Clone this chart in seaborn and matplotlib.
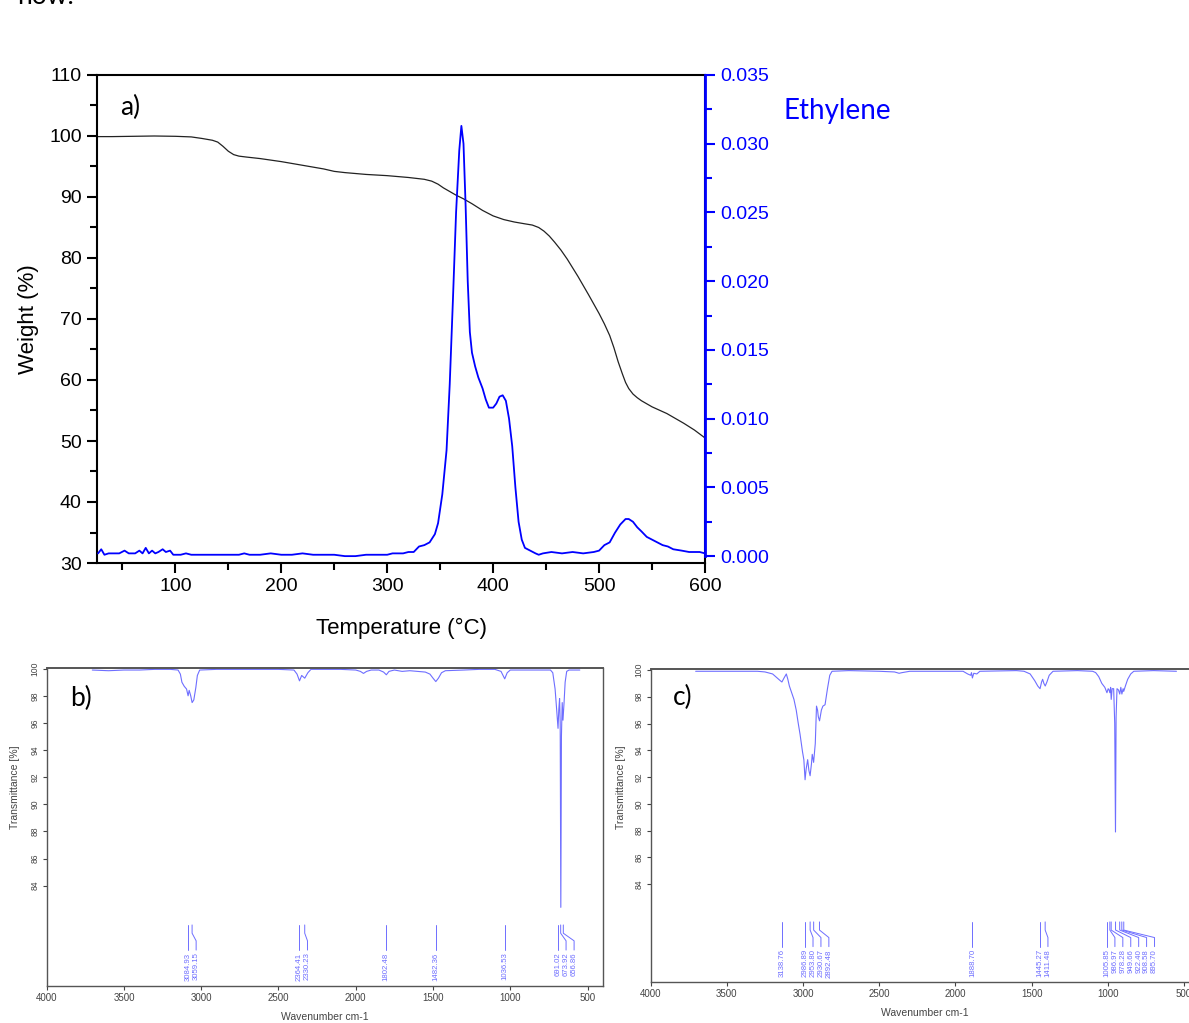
import matplotlib
matplotlib.use("Agg")
import matplotlib.pyplot as plt
import seaborn as sns
from matplotlib.ticker import MultipleLocator, FixedLocator, FormatStrFormatter

sns.set_theme(style="white")
plt.rcParams["font.family"] = ["Liberation Sans", "DejaVu Sans"]

# ---------------- TGA weight loss ----------------
tga_temp = [26, 40, 60, 80, 100, 115, 125, 135, 140, 145,
            150, 155, 160, 167, 180, 200, 220, 240, 250, 260,
            280, 300, 320, 335, 342, 348, 353, 358, 365, 372,
            380, 390, 400, 410, 420, 430, 437, 443, 448, 453,
            458, 464, 470, 480, 490, 500, 505, 510, 514, 518,
            522, 525, 528, 532, 536, 540, 550, 564, 580, 590,
            600]
tga_weight = [99.9, 99.9, 99.95, 100.0, 99.95, 99.85, 99.6, 99.3, 99.0, 98.3,
              97.5, 96.95, 96.7, 96.55, 96.3, 95.8, 95.2, 94.6, 94.2, 94.0,
              93.7, 93.5, 93.2, 92.9, 92.6, 92.1, 91.5, 91.0, 90.3, 89.7,
              88.9, 87.8, 86.9, 86.3, 85.9, 85.6, 85.4, 85.0, 84.4, 83.6,
              82.6, 81.3, 79.8, 77.0, 74.0, 70.9, 69.2, 67.3, 65.3, 63.0,
              61.0, 59.6, 58.6, 57.7, 57.1, 56.6, 55.6, 54.5, 52.9, 51.8,
              50.5]

# ---------------- Evolved ethylene signal ----------------
eth_temp = [27, 30, 33, 37, 42, 47, 52, 56, 62, 66,
            69, 72, 75, 78, 81, 84, 88, 91, 95, 98,
            105, 110, 115, 125, 140, 150, 160, 165, 170, 180,
            190, 200, 210, 220, 230, 240, 250, 260, 270, 280,
            290, 300, 305, 310, 315, 320, 325, 330, 335, 340,
            345, 348, 352, 356, 359, 362, 365, 368, 370, 372,
            374, 376, 378, 380, 383, 386, 390, 393, 396, 400,
            403, 406, 409, 412, 415, 418, 421, 424, 427, 430,
            435, 440, 443, 447, 455, 465, 475, 485, 495, 500,
            505, 510, 515, 520, 525, 528, 532, 536, 540, 545,
            550, 555, 560, 565, 570, 578, 585, 595, 600]
eth_signal = [0.0002, 0.0005, 0.0001, 0.0002, 0.0002, 0.0002, 0.0004, 0.0002, 0.0002, 0.0004,
              0.0002, 0.0006, 0.0002, 0.0004, 0.0002, 0.0003, 0.0005, 0.0003, 0.0004, 0.0001,
              0.0001, 0.0002, 0.0001, 0.0001, 0.0001, 0.0001, 0.0001, 0.0002, 0.0001, 0.0001,
              0.0002, 0.0001, 0.0001, 0.0002, 0.0001, 0.0001, 0.0001, 0.0000, 0.0000, 0.0001,
              0.0001, 0.0001, 0.0002, 0.0002, 0.0002, 0.0003, 0.0003, 0.0007, 0.0008, 0.0010,
              0.0016, 0.0024, 0.0045, 0.0077, 0.0125, 0.0186, 0.0250, 0.0295, 0.0313, 0.0300,
              0.0255, 0.0200, 0.0163, 0.0148, 0.0138, 0.0130, 0.0122, 0.0114, 0.0108, 0.0108,
              0.0111, 0.0116, 0.0117, 0.0113, 0.0100, 0.0080, 0.0050, 0.0025, 0.0012, 0.0006,
              0.0004, 0.0002, 0.0001, 0.0002, 0.0003, 0.0002, 0.0003, 0.0002, 0.0003, 0.0004,
              0.0008, 0.0010, 0.0017, 0.0023, 0.0027, 0.0027, 0.0025, 0.0021, 0.0018, 0.0014,
              0.0012, 0.0010, 0.0008, 0.0007, 0.0005, 0.0004, 0.0003, 0.0003, 0.0002]

# ---------------- FTIR spectrum b) ----------------
ir_b_wn = [3705, 3600, 3500, 3400, 3300, 3200, 3150, 3135, 3125, 3110,
           3095, 3085, 3078, 3068, 3059, 3048, 3035, 3025, 3010, 2900,
           2700, 2500, 2400, 2380, 2364, 2350, 2340, 2330, 2310, 2290,
           2100, 2000, 1970, 1950, 1930, 1900, 1850, 1820, 1802, 1785,
           1750, 1700, 1650, 1600, 1550, 1520, 1500, 1482, 1465, 1445,
           1420, 1300, 1200, 1100, 1060, 1036, 1020, 1000, 900, 800,
           740, 725, 710, 700, 691, 686, 681, 677, 673, 669,
           664, 659, 652, 645, 635, 620, 550]
ir_b_trans = [99.9, 99.85, 99.9, 99.9, 99.95, 99.95, 99.9, 99.6, 99.0, 98.7,
              98.5, 98.0, 98.4, 98.0, 97.5, 97.7, 98.6, 99.5, 99.9, 99.95,
              99.95, 99.95, 99.9, 99.6, 99.1, 99.5, 99.4, 99.3, 99.7, 99.95,
              99.95, 99.9, 99.8, 99.65, 99.8, 99.9, 99.9, 99.75, 99.55, 99.8,
              99.9, 99.8, 99.85, 99.8, 99.75, 99.6, 99.3, 99.05, 99.3, 99.7,
              99.85, 99.9, 99.95, 99.95, 99.8, 99.25, 99.7, 99.9, 99.9, 99.9,
              99.9, 99.7, 98.5, 97.0, 95.6, 97.0, 97.8, 96.0, 82.4, 95.0,
              97.5, 96.2, 97.5, 99.0, 99.8, 99.9, 99.9]
ir_b_peaks = [3084.93, 3059.15, 2364.41, 2330.23, 1802.48, 1482.36,
              1036.53, 691.02, 673.92, 656.86]

# ---------------- FTIR spectrum c) ----------------
ir_c_wn = [3705, 3500, 3300, 3250, 3200, 3170, 3150, 3139, 3125, 3110,
           3100, 3090, 3075, 3060, 3045, 3033, 3020, 3004, 2995, 2987,
           2980, 2970, 2962, 2954, 2945, 2940, 2931, 2920, 2912, 2905,
           2900, 2892, 2880, 2870, 2856, 2840, 2825, 2810, 2700, 2500,
           2400, 2370, 2350, 2300, 2100, 1950, 1920, 1900, 1895, 1889,
           1880, 1860, 1840, 1600, 1550, 1510, 1480, 1460, 1445, 1435,
           1428, 1420, 1411, 1400, 1385, 1360, 1200, 1100, 1080, 1060,
           1040, 1020, 1006, 998, 992, 987, 982, 978, 972, 962,
           955, 950, 946, 940, 930, 922, 915, 908, 900, 896,
           885, 870, 850, 830, 700, 550]
ir_c_trans = [99.9, 99.9, 99.9, 99.85, 99.7, 99.4, 99.2, 99.1, 99.4, 99.7,
              99.3, 98.8, 98.3, 97.8, 97.0, 96.1, 95.2, 93.9, 93.3, 91.8,
              92.6, 93.3, 92.5, 92.1, 93.0, 93.7, 93.1, 94.5, 97.3, 97.0,
              96.5, 96.2, 97.0, 97.3, 97.4, 98.6, 99.6, 99.9, 99.95, 99.9,
              99.85, 99.75, 99.8, 99.9, 99.9, 99.9, 99.7, 99.6, 99.8, 99.4,
              99.75, 99.7, 99.9, 99.95, 99.9, 99.7, 99.2, 98.8, 98.6, 99.1,
              99.3, 99.0, 98.8, 99.1, 99.6, 99.9, 99.95, 99.9, 99.8, 99.5,
              99.0, 98.7, 98.3, 98.6, 98.5, 98.3, 98.7, 97.8, 98.6, 98.6,
              96.0, 87.9, 96.5, 98.6, 98.5, 98.2, 98.7, 98.2, 98.6, 98.4,
              98.8, 99.3, 99.7, 99.9, 99.95, 99.9]
ir_c_peaks = [3138.76, 2986.89, 2953.80, 2930.67, 2892.48, 1888.70,
              1445.27, 1411.48, 1005.85, 986.97, 978.28, 949.66,
              922.40, 908.58, 895.70]

W, H = 1189, 1023
BLUE = "#0000ff"
IR_COLOR = "#6e6eff"
GREY = "#444444"
LABEL_FONT = ["Lato", "DejaVu Sans"]


def px_rect(left, top, right, bottom):
    """Axes rectangle from pixel edges (origin top-left)."""
    return [left / W, 1 - bottom / H, (right - left) / W, (bottom - top) / H]


fig = plt.figure(figsize=(W / 100, H / 100), dpi=100)
fig.patch.set_facecolor("white")

# ================= a) TGA + ethylene =================
ax = fig.add_axes(px_rect(97, 75, 705, 563))
sns.lineplot(x=tga_temp, y=tga_weight, ax=ax, color="#222222", linewidth=0.9)
ax.set_xlim(26, 600)
ax.set_ylim(30, 110)
ax.xaxis.set_major_locator(MultipleLocator(100))
ax.xaxis.set_minor_locator(MultipleLocator(50))
ax.yaxis.set_major_locator(MultipleLocator(10))
ax.yaxis.set_minor_locator(MultipleLocator(5))
ax.tick_params(which="both", direction="out", top=False, right=False,
               bottom=True, left=True, width=1.5, color="black",
               labelsize=14, labelcolor="black", pad=4)
ax.tick_params(which="major", length=7)
ax.tick_params(which="minor", length=5)
for s in ax.spines.values():
    s.set_color("black")
    s.set_linewidth(1.5)
ax.set_xlabel("Temperature (°C)", fontsize=16, color="black", labelpad=16)
ax.set_ylabel("Weight (%)", fontsize=16, color="black", labelpad=7)

ax2 = ax.twinx()
sns.lineplot(x=eth_temp, y=eth_signal, ax=ax2, color=BLUE, linewidth=1.3)
ax2.set_ylim(-0.0005, 0.035)
ax2.yaxis.set_major_locator(MultipleLocator(0.005))
ax2.yaxis.set_minor_locator(MultipleLocator(0.0025))
ax2.yaxis.set_major_formatter(FormatStrFormatter("%.3f"))
ax2.tick_params(which="both", direction="out", right=True, left=False,
                width=1.5, color=BLUE, labelsize=14, labelcolor=BLUE, pad=4)
ax2.tick_params(which="major", length=7)
ax2.tick_params(which="minor", length=5)
for name in ["left", "top", "bottom"]:
    ax2.spines[name].set_visible(False)
ax2.spines["right"].set_color(BLUE)
ax2.spines["right"].set_linewidth(2)
ax2.spines["right"].set_bounds(0, 0.035)
ax2.set_ylabel("")
ax2.set_xlabel("")

fig.text(120 / W, 1 - 107 / H, "a)", fontsize=19, family=LABEL_FONT,
         color="black", va="center", ha="left")
fig.text(783 / W, 1 - 111 / H, "Ethylene", fontsize=20, family=LABEL_FONT,
         color=BLUE, va="center", ha="left")
fig.text(17 / W, 1 - 4 / H, "now.", fontsize=19, family=LABEL_FONT,
         color="black", va="baseline", ha="left")


# ================= FTIR panels =================
def peak_marks(axis, peaks, sep):
    """Peak-pick lines with labels spread apart where peaks crowd."""
    trans = axis.get_xaxis_transform()
    ordered = sorted(peaks, reverse=True)
    spots = []
    for p in ordered:
        spots.append(p if not spots else min(p, spots[-1] - sep))
    for p, lx in zip(ordered, spots):
        axis.plot([p, p, lx, lx], [0.192, 0.166, 0.142, 0.113],
                  transform=trans, color=IR_COLOR, linewidth=0.7)
        axis.text(lx, 0.105, f"{p:.2f}", transform=trans, rotation=90,
                  ha="center", va="top", fontsize=5.6, color=IR_COLOR)


def ir_panel(rect, wn, trans, peaks, ylim, tag, tag_xy, ylab_xy, xlab_y):
    axis = fig.add_axes(rect)
    sns.lineplot(x=wn, y=trans, ax=axis, color=IR_COLOR, linewidth=0.8)
    axis.set_xlim(4000, 400)
    axis.set_ylim(*ylim)
    axis.xaxis.set_major_locator(FixedLocator([4000, 3500, 3000, 2500, 2000, 1500, 1000, 500]))
    axis.yaxis.set_major_locator(FixedLocator(list(range(84, 101, 2))))
    axis.tick_params(which="major", direction="out", length=3, width=0.8,
                     color=GREY, labelcolor=GREY, pad=2, bottom=True, left=True)
    axis.tick_params(axis="x", labelsize=7)
    axis.tick_params(axis="y", labelsize=6.2)
    for lab in axis.get_yticklabels():
        lab.set_rotation(90)
        lab.set_va("center")
    for s in axis.spines.values():
        s.set_color("#555555")
        s.set_linewidth(1.0)
    axis.spines["top"].set_linewidth(1.4)
    axis.set_xlabel("Wavenumber cm-1", fontsize=7.5, color=GREY)
    axis.set_ylabel("Transmittance [%]", fontsize=7.5, color=GREY)
    axis.xaxis.set_label_coords(0.5, xlab_y)
    axis.xaxis.label.set_va("center")
    axis.yaxis.set_label_coords(*ylab_xy)
    axis.yaxis.label.set_va("center")
    peak_marks(axis, peaks, 52)
    fig.text(tag_xy[0] / W, 1 - tag_xy[1] / H, tag, fontsize=19,
             family=LABEL_FONT, color="black", va="center", ha="left")
    return axis


ir_panel(px_rect(46.7, 668, 603, 986), ir_b_wn, ir_b_trans, ir_b_peaks,
         (76.6, 100.05), "b)", (70, 698), (-0.0565, 0.626), -0.0965)
ir_panel(px_rect(650.7, 669, 1199.3, 982), ir_c_wn, ir_c_trans, ir_c_peaks,
         (76.7, 100.07), "c)", (673, 697), (-0.0547, 0.624), -0.099)

fig.savefig("out.png", dpi=100)
